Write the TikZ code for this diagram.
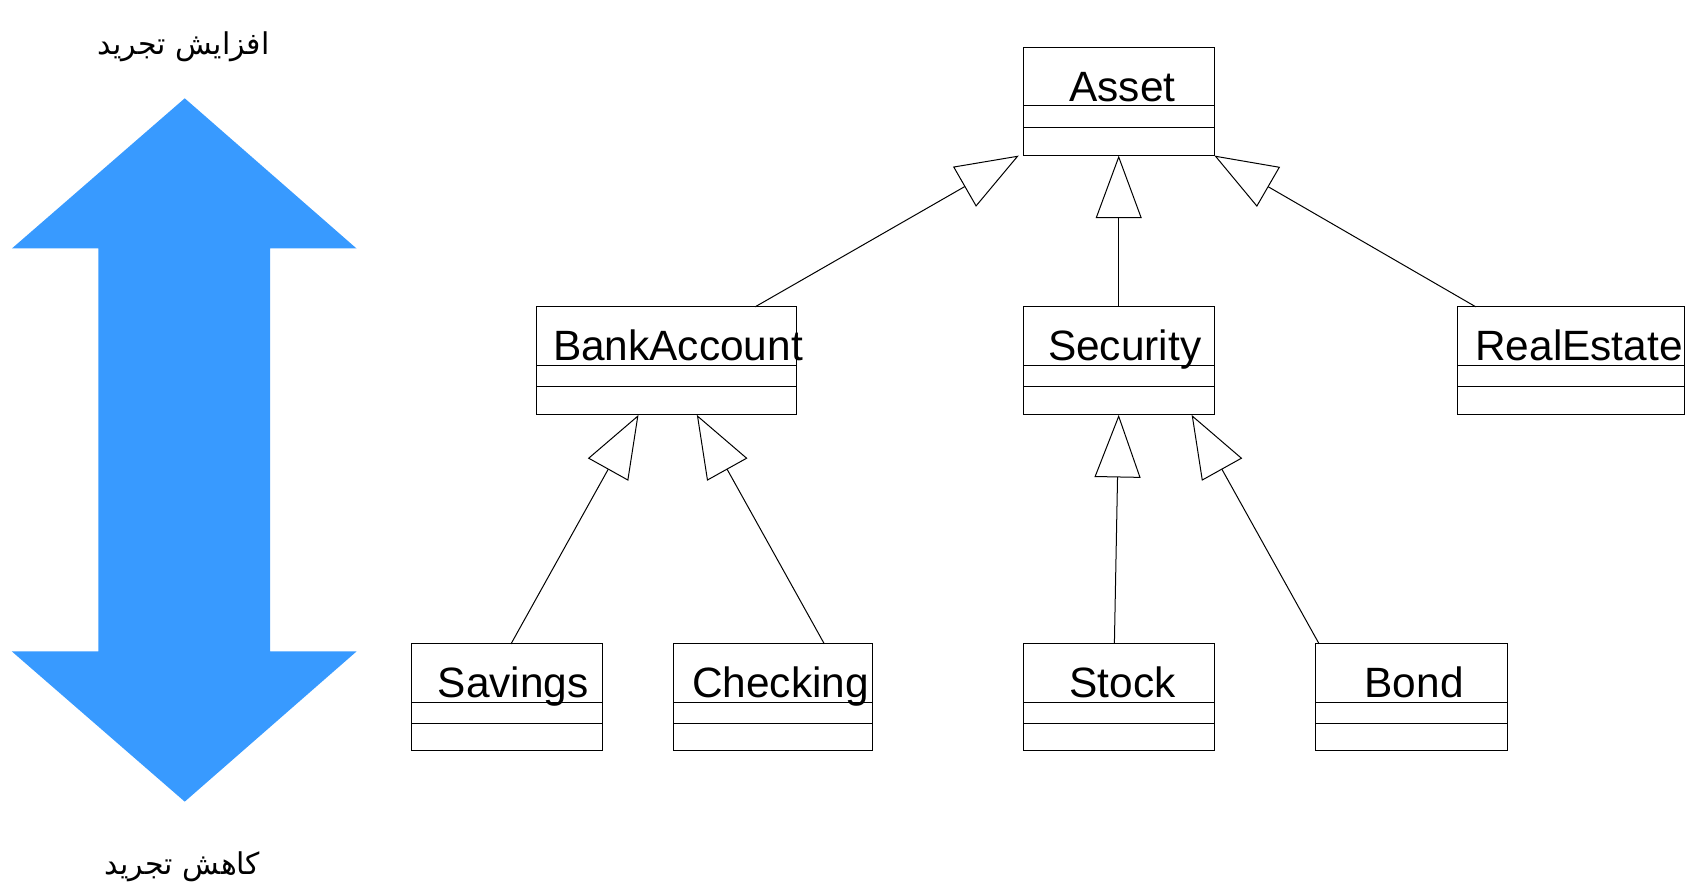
\documentclass[tikz,border=0pt]{standalone}
\usepackage{fontspec}
\setmainfont{Liberation Sans}
\newfontfamily\arabicfont[Script=Arabic]{DejaVu Sans}
\TeXXeTstate=1
\usetikzlibrary{arrows.meta,calc}
\definecolor{arrowblue}{RGB}{56,154,255}
\newcommand\umlcls[7]{%
  \node[clsbox, minimum width={(#4-#2)*0.5402pt}, minimum height={(#5-#3)*0.5402pt}] (#1) at ({(#2+#4)/2},{(#3+#5)/2}) {};
  \draw[clsline] ($(#1.north west)+(0,54)$) -- ($(#1.north east)+(0,54)$);
  \draw[clsline] ($(#1.north west)+(0,74)$) -- ($(#1.north east)+(0,74)$);
  \node[clstext] (#1-name) at (#7,#3+50) {#6};
}
\begin{document}
\begin{tikzpicture}[x=0.5402pt,y=-0.5402pt,
  clsbox/.style={draw,line width=0.5pt,inner sep=0pt,outer sep=0pt,rectangle},
  clsline/.style={line width=0.5pt},
  clstext/.style={anchor=base,inner sep=0pt,font=\fontsize{21.2}{24}\selectfont},
  inh/.style={line width=0.5pt,-{Triangle[open,length=31.3pt,width=23pt]}},
  fa/.style={font=\fontsize{15}{18}\selectfont\arabicfont,inner sep=0pt}]
\useasboundingbox (0,0) rectangle (1568,828);
% big double arrow
\fill[arrowblue] (171,91) -- (330,230) -- (250,230) -- (250,603) -- (330,603)
  -- (171,742) -- (11,603) -- (91,603) -- (91,230) -- (11,230) -- cycle;
\node[fa] (up) at (170,43) {\beginR افزایش تجرید\endR};
\node[fa] (down) at (169,802) {\beginR کاهش تجرید\endR};
% classes
\umlcls{asset}{947}{44}{1124}{144}{Asset}{1039}
\umlcls{ba}{497}{284}{737}{384}{BankAccount}{627.5}
\umlcls{sec}{947}{284}{1124}{384}{Security}{1041}
\umlcls{re}{1349}{284}{1559}{384}{RealEstate}{1461.5}
\umlcls{sav}{381}{596}{558}{695}{Savings}{475}
\umlcls{chk}{623}{596}{808}{695}{Checking}{722.5}
\umlcls{stk}{947}{596}{1124}{695}{Stock}{1039}
\umlcls{bond}{1218}{596}{1395}{695}{Bond}{1309}
% inheritance
\draw[inh] ($(ba.north west)+(202,0)$) -- ($(asset.south west)+(-4,0)$);
\draw[inh] (sec.north) -- (asset.south);
\draw[inh] ($(re.north west)+(17,0)$) -- (asset.south east);
\draw[inh] ($(sav.north west)+(92,0)$) -- ($(ba.south west)+(94,0)$);
\draw[inh] ($(chk.north west)+(140,0)$) -- ($(ba.south west)+(148,0)$);
\draw[inh] ($(stk.north)+(-4,0)$) -- (sec.south);
\draw[inh] ($(bond.north west)+(3,0)$) -- ($(sec.south west)+(156,0)$);
\end{tikzpicture}
\end{document}
